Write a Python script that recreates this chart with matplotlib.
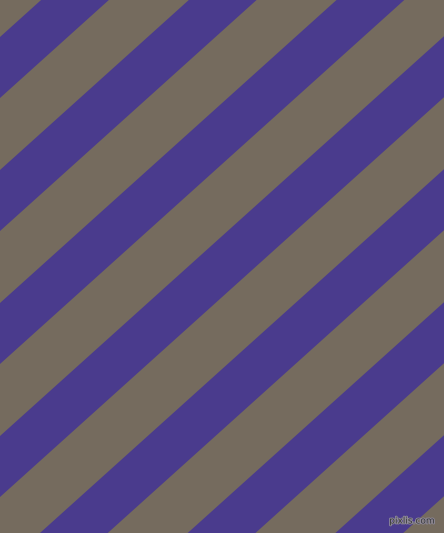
import numpy as np
import matplotlib
matplotlib.use("Agg")
import matplotlib.pyplot as plt
import matplotlib.patheffects as pe

# Pattern parameters (pixel units)
width_px, height_px = 444, 533
angle_deg = 42            # stripes rise at about 42 degrees
period_v = 133            # vertical repeat of one blue + one grey band
blue_start = 37           # first blue band starts here on the left edge
blue_height = 61          # vertical height of a blue band
colors = ["#756B5E", "#4A3B8D"]  # grey-brown, indigo
watermark = "pixlis.com"

fig = plt.figure(figsize=(width_px / 100, height_px / 100), dpi=100)
ax = fig.add_axes([0, 0, 1, 1])
ax.set_xlim(0, width_px)
ax.set_ylim(height_px, 0)
ax.axis("off")
fig.patch.set_facecolor(colors[0])
ax.set_facecolor(colors[0])

t = np.tan(np.radians(angle_deg))
x0, x1 = -20, width_px + 20
# s = y + t*x is constant along a stripe edge
s_max = height_px + t * width_px + period_v
for k in range(-2, int(s_max // period_v) + 2):
    s0 = blue_start + k * period_v
    s1 = s0 + blue_height
    xs = [x0, x1, x1, x0]
    ys = [s0 - t * x0, s0 - t * x1, s1 - t * x1, s1 - t * x0]
    ax.fill(xs, ys, color=colors[1], linewidth=0)

ax.text(435, 521, watermark, fontsize=6.5, color="#383838", ha="right", va="center",
        path_effects=[pe.withStroke(linewidth=1.3, foreground="#8f8a9a")])

fig.savefig("out.png", dpi=100, facecolor=fig.get_facecolor())
